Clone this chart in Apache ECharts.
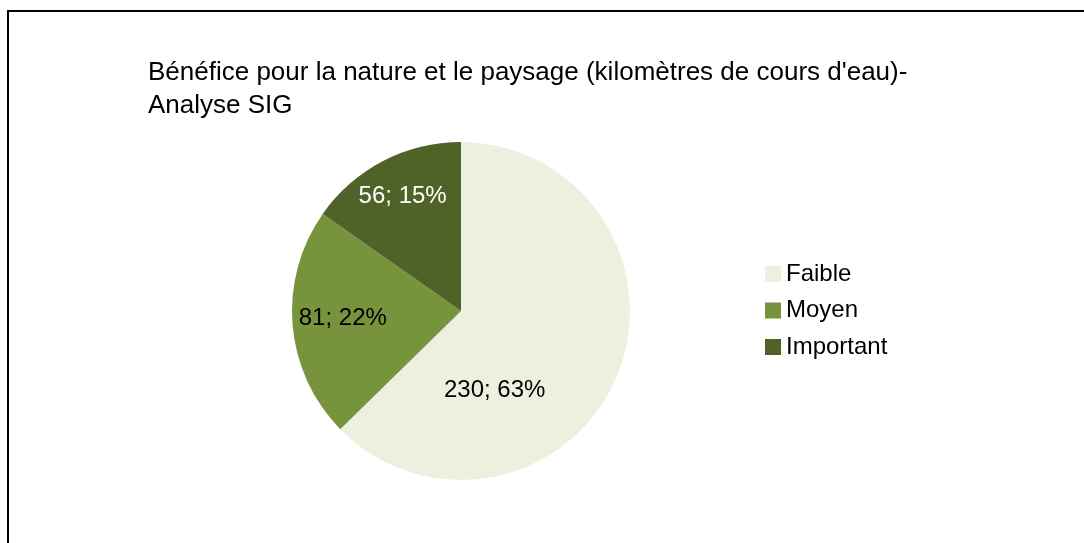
<!DOCTYPE html>
<html>
<head>
<meta charset="utf-8">
<script src="https://cdn.jsdelivr.net/npm/echarts@6/dist/echarts.min.js"></script>
<style>
  html, body { margin: 0; padding: 0; background: #fff; overflow: hidden; }
  #frame { position: absolute; left: 7px; top: 10px; width: 1200px; height: 700px; border: 2px solid #000; box-sizing: border-box; }
  #chart { position: absolute; left: 0; top: 0; width: 1084px; height: 543px; }
</style>
</head>
<body>
<div id="frame"></div>
<div id="chart"></div>
<script>
// données
var categories = ['Faible', 'Moyen', 'Important'];
var values = [230, 81, 56];
var colors = ['#EBF1DE', '#77933C', '#4F6228'];
var labelColors = ['#000', '#000', '#fff'];

var chart = echarts.init(document.getElementById('chart'));
var total = values.reduce(function (a, b) { return a + b; }, 0);
// décalage des étiquettes (placement type Excel)
var offsets = [[-47, 45], [-31, 0], [-18, -37]];

var pieData = categories.map(function (name, i) {
  return {
    name: name,
    value: values[i],
    itemStyle: { color: colors[i] },
    label: { color: labelColors[i], offset: offsets[i] }
  };
});

chart.setOption({
  animation: false,
  title: {
    text: "Bénéfice pour la nature et le paysage (kilomètres de cours d'eau)-\nAnalyse SIG",
    left: 143,
    top: 51,
    textStyle: { fontFamily: 'Liberation Sans', fontSize: 26, fontWeight: 'normal', color: '#000', lineHeight: 33 }
  },
  legend: {
    orient: 'vertical',
    left: 765,
    top: 262,
    padding: 0,
    itemWidth: 16,
    itemHeight: 16,
    itemGap: 12.5,
    icon: 'rect',
    textStyle: { fontFamily: 'Liberation Sans', fontSize: 24, lineHeight: 24, color: '#000' },
    data: categories
  },
  series: [{
    type: 'pie',
    center: [461, 311],
    radius: 169,
    startAngle: 90,
    clockwise: true,
    label: {
      show: true,
      position: 'inside',
      fontFamily: 'Liberation Sans',
      fontSize: 24,
      formatter: function (p) {
        return p.value + '; ' + Math.round(p.value / total * 100) + '%';
      }
    },
    labelLine: { show: false },
    emphasis: { disabled: true },
    data: pieData
  }]
});
</script>
</body>
</html>
